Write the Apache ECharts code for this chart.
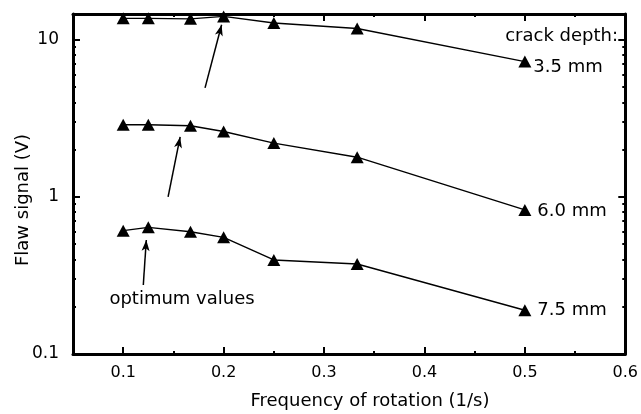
<!DOCTYPE html>
<html>
<head>
<meta charset="utf-8">
<script src="https://cdn.jsdelivr.net/npm/echarts@6/dist/echarts.min.js"></script>
<style>
    html, body { margin: 0; padding: 0; background: #fff; }
    #chart { width: 641px; height: 414px; }
</style>
</head>
<body>
<div id="chart"></div>
<script>
// rotation frequency (1/s)
const freq = [0.1, 0.125, 0.167, 0.2, 0.25, 0.333, 0.5];
// flaw signal (V) per crack depth
const depth35 = [13.7, 13.7, 13.6, 14.1, 12.8, 11.8, 7.27];
const depth60 = [2.88, 2.88, 2.84, 2.61, 2.20, 1.79, 0.826];
const depth75 = [0.61, 0.64, 0.60, 0.553, 0.397, 0.374, 0.19];
const depthNames = ['3.5 mm', '6.0 mm', '7.5 mm'];

// axis ticks
const xMajor = [0.1, 0.2, 0.3, 0.4, 0.5, 0.6];
const xMinor = [0.15, 0.25, 0.35, 0.45, 0.55];
const yMajor = [0.1, 1, 10];
const yMinor = [0.2, 0.3, 0.4, 0.5, 0.6, 0.7, 0.8, 0.9, 2, 3, 4, 5, 6, 7, 8, 9];

// "optimum values" arrows: tail -> head
const arrowTails = [[0.1815, 4.94], [0.1447, 1.0], [0.12, 0.275]];
const arrowHeads = [[0.198, 12.46], [0.1567, 2.41], [0.123, 0.532]];

const font = 'DejaVu Sans';

function makeSeries(values, name, labelOffset, dist) {
    const data = values.map((v, i) => [freq[i], v]);
    const last = data.length - 1;
    data[last] = {
        value: data[last],
        label: {
            show: true,
            position: 'right',
            distance: dist,
            offset: [0, labelOffset],
            formatter: name,
            color: '#000',
            fontFamily: font,
            fontSize: 18
        }
    };
    return {
        name: name,
        type: 'line',
        xAxisIndex: 0,
        yAxisIndex: 0,
        data: data,
        symbol: 'triangle',
        symbolSize: [13, 12],
        itemStyle: { color: '#000' },
        lineStyle: { color: '#000', width: 1.4 },
        animation: false,
        z: 3
    };
}

function xAx(position, values, len, line) {
    return {
        type: 'value',
        position: position,
        min: 0.05,
        max: 0.6,
        axisLine: { show: line, onZero: false, lineStyle: { color: '#000', width: 3 } },
        axisTick: { show: true, inside: true, length: len, customValues: values, lineStyle: { color: '#000', width: 2 } },
        axisLabel: { show: false },
        splitLine: { show: false }
    };
}

function yAx(position, values, len, line) {
    return {
        type: 'log',
        position: position,
        min: 0.1,
        max: 14.6,
        axisLine: { show: line, onZero: false, lineStyle: { color: '#000', width: 3 } },
        axisTick: { show: true, inside: true, length: len, customValues: values, lineStyle: { color: '#000', width: 2 } },
        axisLabel: { show: false },
        splitLine: { show: false }
    };
}

const xAxes = [
    xAx('bottom', xMajor, 7, true),
    xAx('top', xMajor, 7, true),
    xAx('bottom', xMinor, 3, false),
    xAx('top', xMinor, 3, false)
];
xAxes[0].axisLabel = {
    show: true,
    customValues: xMajor,
    margin: 11,
    color: '#000',
    fontFamily: font,
    fontSize: 16,
    formatter: (v) => v.toFixed(1)
};

const yAxes = [
    yAx('left', yMajor, 7, true),
    yAx('right', yMajor, 7, true),
    yAx('left', yMinor, 3, false),
    yAx('right', yMinor, 3, false)
];
yAxes[0].axisLabel = {
    show: true,
    customValues: yMajor,
    margin: 14,
    color: '#000',
    fontFamily: font,
    fontSize: 17,
    formatter: (v) => String(v)
};

const option = {
    backgroundColor: '#fff',
    animation: false,
    grid: { left: 73, right: 15, top: 14, bottom: 60 },
    xAxis: xAxes,
    yAxis: yAxes,
    series: [
        makeSeries(depth35, depthNames[0], 6, 2),
        makeSeries(depth60, depthNames[1], 1, 6),
        makeSeries(depth75, depthNames[2], 0, 6),
        {
            type: 'line',
            data: [],
            xAxisIndex: 0,
            yAxisIndex: 0,
            markLine: {
                silent: true,
                animation: false,
                symbol: ['none', 'arrow'],
                symbolSize: [6, 11],
                label: { show: false },
                lineStyle: { color: '#000', width: 1.5, type: 'solid' },
                data: arrowTails.map((t, i) => [{ coord: t }, { coord: arrowHeads[i] }])
            }
        }
    ],
    graphic: [
        {
            type: 'text',
            style: {
                text: 'Flaw signal (V)',
                x: 0, y: 0,
                align: 'center',
                verticalAlign: 'middle',
                font: '18px "DejaVu Sans"',
                fill: '#000'
            },
            x: 23, y: 200,
            rotation: Math.PI / 2
        },
        {
            type: 'text',
            style: {
                text: 'Frequency of rotation (1/s)',
                x: 370, y: 401,
                align: 'center',
                verticalAlign: 'middle',
                font: '18px "DejaVu Sans"',
                fill: '#000'
            }
        },
        {
            type: 'text',
            style: {
                text: 'crack depth:',
                x: 618, y: 36,
                align: 'right',
                verticalAlign: 'middle',
                font: '18px "DejaVu Sans"',
                fill: '#000'
            }
        },
        {
            type: 'text',
            style: {
                text: 'optimum values',
                x: 182, y: 299,
                align: 'center',
                verticalAlign: 'middle',
                font: '18px "DejaVu Sans"',
                fill: '#000'
            }
        }
    ]
};

const chart = echarts.init(document.getElementById('chart'));
chart.setOption(option);
</script>
</body>
</html>
